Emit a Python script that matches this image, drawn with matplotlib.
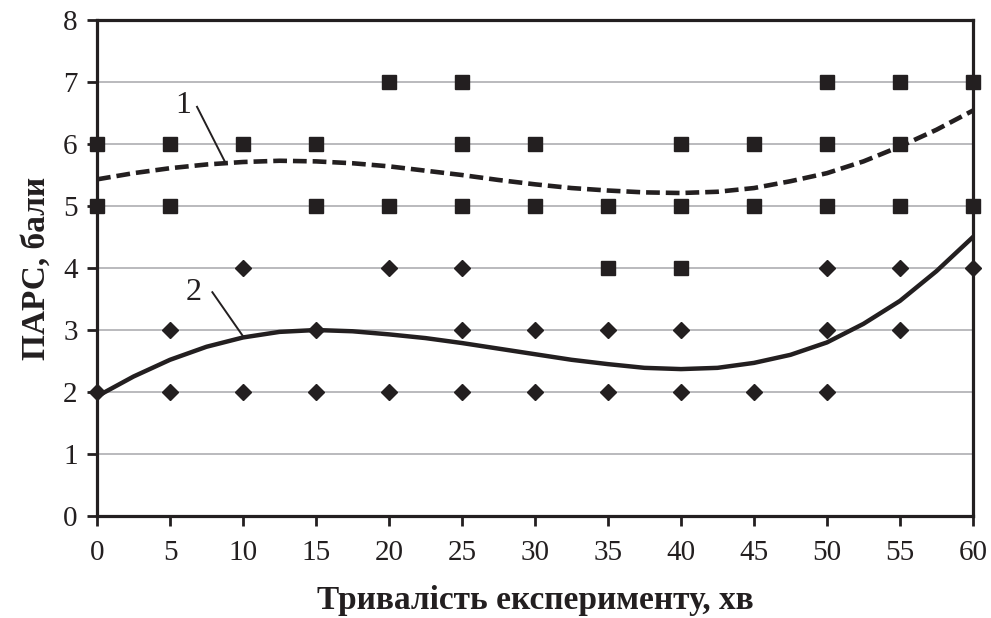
import numpy as np
import matplotlib.pyplot as plt

plt.rcParams['font.family'] = ['Liberation Serif', 'DejaVu Serif']

# Group 1 (squares): time, score
sq_t = [0, 0, 5, 5, 10, 15, 15, 20, 20, 25, 25, 25, 30, 30, 35, 35,
        40, 40, 40, 45, 45, 50, 50, 50, 55, 55, 55, 60, 60]
sq_v = [6, 5, 6, 5, 6, 6, 5, 7, 5, 7, 6, 5, 6, 5, 5, 4,
        6, 5, 4, 6, 5, 7, 6, 5, 7, 6, 5, 7, 5]

# Group 2 (diamonds): time, score
dm_t = [0, 5, 5, 10, 10, 15, 15, 20, 20, 25, 25, 25, 30, 30, 35, 35,
        40, 40, 45, 50, 50, 50, 55, 55, 60]
dm_v = [2, 3, 2, 4, 2, 3, 2, 4, 2, 4, 3, 2, 3, 2, 3, 2,
        3, 2, 2, 4, 3, 2, 4, 3, 4]

# trend lines
tr_t = [0, 2.5, 5, 7.5, 10, 12.5, 15, 17.5, 20, 22.5, 25, 27.5, 30,
        32.5, 35, 37.5, 40, 42.5, 45, 47.5, 50, 52.5, 55, 57.5, 60]
tr1 = [5.43, 5.53, 5.61, 5.67, 5.71, 5.73, 5.72, 5.69, 5.64, 5.57, 5.50, 5.42, 5.35,
       5.29, 5.25, 5.22, 5.21, 5.23, 5.29, 5.40, 5.53, 5.72, 5.96, 6.23, 6.54]
tr2 = [1.93, 2.25, 2.52, 2.73, 2.88, 2.97, 3.00, 2.98, 2.93, 2.87, 2.79, 2.70, 2.61,
       2.52, 2.45, 2.39, 2.37, 2.39, 2.47, 2.60, 2.80, 3.10, 3.47, 3.95, 4.50]

xticks = np.arange(0, 61, 5)
yticks = np.arange(0, 9, 1)

ink = '#231f20'

fig = plt.figure(figsize=(9.91, 6.18), dpi=100)
ax = fig.add_axes([0.0979, 0.165, 0.8839, 0.8026])

ax.plot(sq_t, sq_v, 's', color=ink, ms=10, ls='none', clip_on=False, zorder=3)
ax.plot(dm_t, dm_v, 'D', color=ink, ms=7.8, ls='none', clip_on=False, zorder=3)
ax.plot(tr_t, tr1, color=ink, lw=3.3, ls=(0, (3, 1.3)), zorder=4)
ax.plot(tr_t, tr2, color=ink, lw=3.2, ls='-', zorder=4)

# curve labels with leader lines
ax.text(5.9, 6.62, '1', fontsize=23, ha='center', va='center', color=ink)
ax.plot([6.85, 8.77], [6.6, 5.71], color=ink, lw=1.4, zorder=5)
ax.text(6.6, 3.6, '2', fontsize=23, ha='center', va='center', color=ink)
ax.plot([7.9, 10.0], [3.61, 2.90], color=ink, lw=1.4, zorder=5)

ax.set_xlim(0, 60)
ax.set_ylim(0, 8)
ax.set_xticks(xticks)
ax.set_yticks(yticks)
ax.yaxis.grid(True, color='#b4b4b8', lw=1.3)
ax.set_axisbelow(True)
for s in ax.spines.values():
    s.set_linewidth(2.3)
    s.set_color(ink)
ax.tick_params(direction='out', length=7, width=2, color=ink,
               labelsize=21, labelcolor=ink)
ax.tick_params(axis='x', pad=10)
ax.tick_params(axis='y', pad=7)

ax.set_xlabel('Тривалість експерименту, хв', fontsize=24, fontweight='bold',
              color=ink, labelpad=14)
ax.set_ylabel('ПАРС, бали', fontsize=24, fontweight='bold', color=ink, labelpad=8)

fig.savefig('out.png', dpi=100)
